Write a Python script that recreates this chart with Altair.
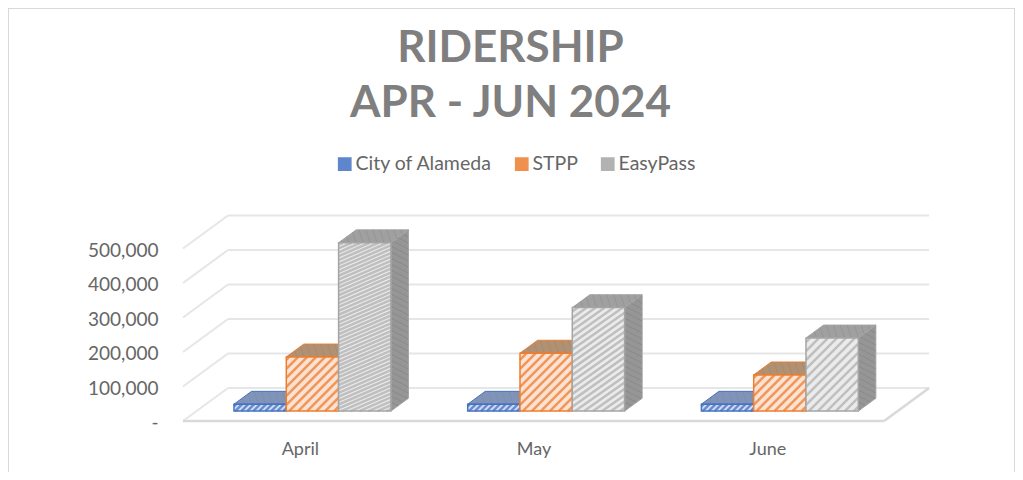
import altair as alt
import pandas as pd

months = ["April", "May", "June"]
series = ["City of Alameda", "STPP", "EasyPass"]
alameda = [20000, 20000, 20000]
stpp = [157000, 168000, 105000]
easypass = [488000, 300000, 212000]
values = [alameda, stpp, easypass]
colors = ["#4472c4", "#ed7d31", "#a5a5a5"]
top_colors = ["#7f93bb", "#b3906f", "#a0a0a0"]
side_colors = ["#6f86b5", "#a88a70", "#969696"]
hatch_dark = ["#4472c4", "#ed7d31", "#b4b4b4"]
ticks = [0, 100000, 200000, 300000, 400000, 500000]

# scale geometry of the oblique projection
PX_U = 233.7          # px per category
PX_V = 34.5 / 100000  # px per rider
W, H = 1007, 464
x0_px, y0_px = 183 - 8, 421 - 8
XS = alt.Scale(domain=[-x0_px / PX_U, (W - x0_px) / PX_U], nice=False, zero=False)
YS = alt.Scale(domain=[-(H - y0_px) / PX_V, y0_px / PX_V], nice=False, zero=False)

DU, DV = 45 / PX_U, 33 / PX_V        # full floor depth
BD0, BD1 = 0.30, 0.69                # bar depth span as a fraction of the floor
BAR = 52.3 / PX_U
BAR_START = (234 - 183 - 0.30 * 45) / PX_U


def X(f="x", **k):
    return alt.X(f, type="quantitative", scale=XS, title=None, **k)


def Y(f="y", **k):
    return alt.Y(f, type="quantitative", scale=YS, title=None, **k)


def hatch(px, py, ex, ey, fx, fy, step, slope=1.0):
    """Diagonal stripes across the face with origin p and edges e, f (data units)."""
    le = ((ex * PX_U) ** 2 + (ey * PX_V) ** 2) ** 0.5
    lf = ((fx * PX_U) ** 2 + (fy * PX_V) ** 2) ** 0.5 / slope
    rows = []
    c = step / 2
    while c < le + lf:
        a1, b1 = min(c / le, 1), max(c - le, 0) / lf
        a2, b2 = max(c - lf, 0) / le, min(c / lf, 1)
        rows.append(dict(x=px + a1 * ex + b1 * fx, y=py + a1 * ey + b1 * fy,
                         x2=px + a2 * ex + b2 * fx, y2=py + a2 * ey + b2 * fy))
        c += step
    return rows


# ---------- walls and floor
grid = []
for t in ticks:
    grid.append(dict(x=DU, x2=3 + DU, y=t + DV, y2=t + DV))
    grid.append(dict(x=0, x2=DU, y=t, y2=t + DV))
grid_df = pd.DataFrame(grid)
floor_df = pd.DataFrame([
    dict(x=0, x2=3, y=0, y2=0),
    dict(x=3, x2=3 + DU, y=0, y2=DV),
])

layers = [
    alt.Chart(grid_df).mark_rule(color="#e6e6e6", strokeWidth=2).encode(
        x=alt.X("x:Q", scale=XS, axis=alt.Axis(
            values=[0.5, 1.5, 2.5], orient="bottom", offset=-32,
            labelExpr="['April','May','June'][floor(datum.value)]",
            domain=False, ticks=False, grid=False, title=None, labelPadding=0,
            labelFont="Lato", labelFontSize=18, labelColor="#666666")),
        x2="x2:Q",
        y=alt.Y("y:Q", scale=YS, axis=alt.Axis(
            values=ticks, orient="left", offset=-150, labelOffset=1.5,
            labelExpr="datum.value == 0 ? '-\u00a0\u00a0\u00a0' : format(datum.value, ',')",
            domain=False, ticks=False, grid=False, title=None, labelPadding=0,
            labelFont="Lato", labelFontSize=19, labelColor="#666666")),
        y2="y2:Q",
    ),
    alt.Chart(floor_df).mark_rule(color="#d9d9d9", strokeWidth=2.5).encode(
        x=X(), x2="x2:Q", y=Y(), y2="y2:Q"),
    # chart frame
    alt.Chart(pd.DataFrame({"f": [0]})).mark_rule(color="#d9d9d9", strokeWidth=2).encode(
        x=alt.value(0), x2=alt.value(W), y=alt.value(0)),
    alt.Chart(pd.DataFrame({"f": [0]})).mark_rule(color="#d9d9d9", strokeWidth=2).encode(
        x=alt.value(0), y=alt.value(0), y2=alt.value(H)),
    alt.Chart(pd.DataFrame({"f": [0]})).mark_rule(color="#d9d9d9", strokeWidth=2).encode(
        x=alt.value(W), y=alt.value(0), y2=alt.value(H)),
]

# ---------- bars: side, top, front, stripes, series by series
for s, name in enumerate(series):
    side, top, front, h_front, h_top, h_side = [], [], [], [], [], []
    for m, month in enumerate(months):
        v = values[s][m]
        u0 = m + BAR_START + s * BAR
        u1 = u0 + BAR
        ox, oy = BD0 * DU, BD0 * DV
        dx, dy = (BD1 - BD0) * DU, (BD1 - BD0) * DV
        fx0, fx1 = u0 + ox, u1 + ox
        side += [dict(m=month, x=fx1, y=oy, y2=oy + v),
                 dict(m=month, x=fx1 + dx, y=oy + dy, y2=oy + dy + v)]
        top += [dict(m=month, y=oy + v, x=fx0, x2=fx1),
                dict(m=month, y=oy + v + dy, x=fx0 + dx, x2=fx1 + dx)]
        front.append(dict(m=month, x=fx0, x2=fx1, y=oy, y2=oy + v, series=name))
        height_px = v * PX_V
        slope = min(1.0, 73 / height_px)
        h_front += hatch(fx1, oy, -BAR, 0, 0, v, 9 if height_px > 20 else 6, slope)
        h_top += hatch(fx0, oy + v, BAR, 0, dx, dy, 7)
        h_side += hatch(fx1, oy, dx, dy, 0, v, 6)
    layers += [
        alt.Chart(pd.DataFrame(side)).mark_area(
            orient="vertical", color=side_colors[s], stroke=colors[s], strokeWidth=1).encode(
            x=X(), y=Y(), y2="y2:Q", detail="m:N"),
        alt.Chart(pd.DataFrame(h_side)).mark_rule(color="#7d7d7d", strokeWidth=1, opacity=0.5).encode(
            x=X(), x2="x2:Q", y=Y(), y2="y2:Q"),
        alt.Chart(pd.DataFrame(top)).mark_area(
            orient="horizontal", color=top_colors[s], stroke=colors[s], strokeWidth=1).encode(
            y=Y(), x=X(), x2="x2:Q", detail="m:N"),
        alt.Chart(pd.DataFrame(h_top)).mark_rule(color="#8a8a8a", strokeWidth=1, opacity=0.5).encode(
            x=X(), x2="x2:Q", y=Y(), y2="y2:Q"),
        alt.Chart(pd.DataFrame(front)).mark_rect(color="white").encode(
            x=X(), x2="x2:Q", y=Y(), y2="y2:Q"),
        alt.Chart(pd.DataFrame(h_front)).mark_rule(color=hatch_dark[s], strokeWidth=2.5, opacity=0.75).encode(
            x=X(), x2="x2:Q", y=Y(), y2="y2:Q"),
        alt.Chart(pd.DataFrame(front)).mark_rect(fillOpacity=0.22, strokeWidth=1.5).encode(
            x=X(), x2="x2:Q", y=Y(), y2="y2:Q",
            color=alt.Color("series:N", scale=alt.Scale(domain=series, range=colors),
                            legend=alt.Legend(
                                orient="none", legendX=327, legendY=146, direction="horizontal",
                                title=None, symbolType="square", symbolSize=150, columnPadding=19,
                                labelFont="Lato", labelFontSize=19.5, labelColor="#666666",
                                symbolOpacity=0.85, labelOffset=1, columns=3)),
            stroke=alt.Color("series:N", scale=alt.Scale(domain=series, range=colors), legend=None),
        ),
    ]

chart = alt.layer(*layers).properties(
    width=W, height=H, padding=0,
    autosize=alt.AutoSizeParams(type="none"),
    title=alt.TitleParams(
        text=["RIDERSHIP", "APR - JUN 2024"], anchor="middle", frame="group",
        font="Lato", fontSize=44, fontWeight="bold", color="#7f7f7f",
        lineHeight=55, baseline="top", dy=119, offset=0, dx=-1),
).configure_view(stroke=None)

chart.save("out.html", embed_options={"renderer": "svg", "actions": False})
